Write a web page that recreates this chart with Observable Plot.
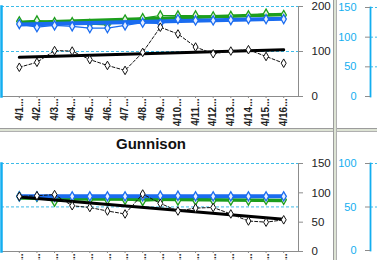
<!DOCTYPE html>
<html><head><meta charset="utf-8">
<script src="https://cdn.jsdelivr.net/npm/d3@7"></script>
<script src="https://cdn.jsdelivr.net/npm/@observablehq/plot@0.6"></script>
<style>
html,body{margin:0;padding:0;background:#fff;overflow:hidden}
#root{position:relative;width:377px;height:260px;overflow:hidden;font-family:"Liberation Sans",Arial,sans-serif;background:#fff}
.pane{position:absolute;overflow:hidden}
.pane svg{max-width:none !important;display:block}
.hbar{position:absolute;left:0;width:377px;top:128px;height:4px;background:#dde3d4;border-top:1px solid #9c9c9c;border-bottom:1px solid #b0b0b0;box-sizing:border-box}
.vbar{position:absolute;top:0;height:260px;left:333px;width:4px;background:#dde3d4;border-left:1px solid #9c9c9c;border-right:1px solid #b0b0b0;box-sizing:border-box}
.title{position:absolute;left:0;width:302px;top:135px;text-align:center;font:bold 15px "Liberation Sans",Arial,sans-serif;color:#111}
</style></head>
<body><div id="root">
<div class="pane" id="p1" style="left:0;top:0;width:333px;height:128px"></div>
<div class="pane" id="p2" style="left:0;top:132px;width:333px;height:128px"></div>
<div class="pane" id="p3" style="left:337px;top:0;width:40px;height:128px"></div>
<div class="pane" id="p4" style="left:337px;top:132px;width:40px;height:128px"></div>
<div class="title">Gunnison</div>
<div class="hbar"></div>
<div class="vbar"></div>
</div>
<script>
// categories and tick labels
const dates = ["4/1","4/2","4/3","4/4","4/5","4/6","4/7","4/8","4/9","4/10","4/11","4/12","4/13","4/14","4/15","4/16"];
const tickLabels = ["4/1...","4/2...","4/3...","4/4...","4/5...","4/6...","4/7...","4/8...","4/9...","4/10...","4/11...","4/12...","4/13...","4/14...","4/15...","4/16..."];

// top panel (0-200)
const topActual = [65,76,102,101,82,69,58,98,154,139,110,95,101,104,89,74];
const topGreen  = [167,169,165,165,161,159,171,174,180,180,180,178,179,180,184,181];
const topBlue   = [161,154,158,156,152,152,158,164,162,172,169,169,170,172,172,172];
const topBlackTrend = [87,104];
const topGreenTrend = [164,182];
const topBlueTrend  = [160,173];
const topTicks = [0,100,200];
const topRefs = [100,200];

// Gunnison panel (0-150)
const gunActual = [94,95,97,78,75,69,64,98,82,69,74,75,64,52,50,54];
const gunGreen  = [94,93,85,88,88,88,88,86,87,87,87,87,87,87,88,88];
const gunBlue   = [94,94,93,94,94,94,94,94,95,95,94,94,94,94,94,94];
const gunBlackTrend = [93,55];
const gunGreenTrend = [91,87];
const gunBlueTrend  = [94,94];
const gunTicks = [0,50,100,150];
const gunRefs = [76,150];

// neighbouring panels (partly visible)
const sideTopTicks = [0,50,100,150];
const sideTopRefs = [50,100,150];
const sideTopBlue = [100];
const sideTopGreen = [91];
const sideTopBlack = [76];
const sideBotTicks = [0,50,100];
const sideBotRefs = [50,100];
const sideBotBlue = [61];
const sideBotGreen = [58];

const GREEN = "#1c9e1c", BLUE = "#1a6cf0", CYAN = "#13aef0", DASH = "#3dbbe8", GRAY = "#8c8c8c";
const NUMFONT = "'Liberation Sans',Arial,sans-serif";

const rows = vals => vals.map((v,i) => ({d: dates[i], v}));
const trend = ends => [{d: dates[0], v: ends[0]}, {d: dates[dates.length-1], v: ends[1]}];

function mainPanel(o){
  return Plot.plot({
    width: 333, height: o.height,
    marginLeft: 1, marginRight: 35, marginTop: o.mt, marginBottom: o.mb,
    style: {background: "transparent", fontFamily: "'Liberation Sans',Arial,sans-serif", maxWidth: "none"},
    x: {type: "point", domain: dates, range: [10, 292], round: false},
    y: {domain: o.yDomain},
    marks: [
      Plot.ruleY(o.refs, {stroke: DASH, strokeDasharray: "3,2", strokeWidth: 1}),
      Plot.ruleY([0], {stroke: GRAY}),
      Plot.frame({anchor: "left", stroke: CYAN, strokeWidth: 2.5}),
      Plot.frame({anchor: "right", stroke: GRAY}),
      Plot.axisY({anchor: "right", ticks: o.ticks, tickSize: 4, tickPadding: 9, stroke: GRAY, fill: "#222", fontSize: 11.5, fontFamily: NUMFONT, label: null}),
      Plot.axisX({anchor: "bottom", tickRotate: -90, tickSize: 2, tickPadding: 0,
        tickFormat: d => tickLabels[dates.indexOf(d)], fontWeight: "bold", fontSize: 10,
        stroke: GRAY, fill: "#222", label: null}),
      Plot.line(rows(o.green), {x: "d", y: "v", stroke: GREEN, strokeWidth: 1.2}),
      Plot.line(trend(o.gT), {x: "d", y: "v", stroke: GREEN, strokeWidth: 3.5}),
      Plot.dot(rows(o.green), {x: "d", y: "v", symbol: "diamond", r: 2.8, stroke: GREEN, fill: "#eaf6e4", strokeWidth: 1.3}),
      Plot.line(rows(o.blue), {x: "d", y: "v", stroke: BLUE, strokeWidth: 1.2}),
      Plot.line(trend(o.bT), {x: "d", y: "v", stroke: BLUE, strokeWidth: 4}),
      Plot.dot(rows(o.blue), {x: "d", y: "v", symbol: "diamond", r: 2.8, stroke: BLUE, fill: "#e6efff", strokeWidth: 1.3}),
      Plot.line(trend(o.kT), {x: "d", y: "v", stroke: "#000", strokeWidth: 3}),
      Plot.line(rows(o.actual), {x: "d", y: "v", stroke: "#111", strokeDasharray: "3,2", strokeWidth: 1}),
      Plot.dot(rows(o.actual), {x: "d", y: "v", symbol: "diamond", r: 2.6, stroke: "#111", fill: "#fff", strokeWidth: 1})
    ]
  });
}

function sidePanel(o){
  return Plot.plot({
    width: 340, height: o.height,
    marginLeft: 33, marginRight: 0, marginTop: o.mt, marginBottom: o.mb,
    style: {background: "transparent", fontFamily: "'Liberation Sans',Arial,sans-serif", maxWidth: "none"},
    x: {type: "point", domain: dates, range: [38, 320], round: false},
    y: {domain: o.yDomain},
    marks: [
      Plot.ruleY(o.refs, {stroke: DASH, strokeDasharray: "3,2", strokeWidth: 1}),
      Plot.frame({anchor: "left", stroke: CYAN, strokeWidth: 1.8}),
      Plot.axisY({anchor: "left", ticks: o.ticks, tickSize: 5, tickPadding: 9, stroke: GRAY, fill: CYAN, fontSize: 11, fontFamily: NUMFONT, label: null}),
      Plot.axisX({anchor: "bottom", tickRotate: -90, tickSize: 2, tickPadding: 0,
        tickFormat: d => tickLabels[dates.indexOf(d)], fontWeight: "bold", fontSize: 10,
        stroke: GRAY, fill: "#222", label: null}),
      Plot.dot(rows(o.green), {x: "d", y: "v", symbol: "diamond", r: 2.8, stroke: GREEN, fill: "#eaf6e4", strokeWidth: 1.3}),
      Plot.dot(rows(o.blue), {x: "d", y: "v", symbol: "diamond", r: 2.8, stroke: BLUE, fill: "#e6efff", strokeWidth: 1.3}),
      Plot.dot(rows(o.black), {x: "d", y: "v", symbol: "diamond", r: 2.4, stroke: "#111", fill: "#fff"})
    ]
  });
}

document.getElementById("p1").append(mainPanel({
  height: 128, mt: 6, mb: 32, yDomain: [0,200], ticks: topTicks, refs: topRefs,
  actual: topActual, green: topGreen, blue: topBlue, kT: topBlackTrend, gT: topGreenTrend, bT: topBlueTrend
}));
document.getElementById("p2").append(mainPanel({
  height: 150, mt: 31, mb: 31, yDomain: [0,150], ticks: gunTicks, refs: gunRefs,
  actual: gunActual, green: gunGreen, blue: gunBlue, kT: gunBlackTrend, gT: gunGreenTrend, bT: gunBlueTrend
}));
document.getElementById("p3").append(sidePanel({
  height: 128, mt: 7, mb: 32, yDomain: [0,150], ticks: sideTopTicks, refs: sideTopRefs,
  green: sideTopGreen, blue: sideTopBlue, black: sideTopBlack
}));
document.getElementById("p4").append(sidePanel({
  height: 150, mt: 31, mb: 32, yDomain: [0,100], ticks: sideBotTicks, refs: sideBotRefs,
  green: sideBotGreen, blue: sideBotBlue, black: []
}));
</script>
</body></html>
